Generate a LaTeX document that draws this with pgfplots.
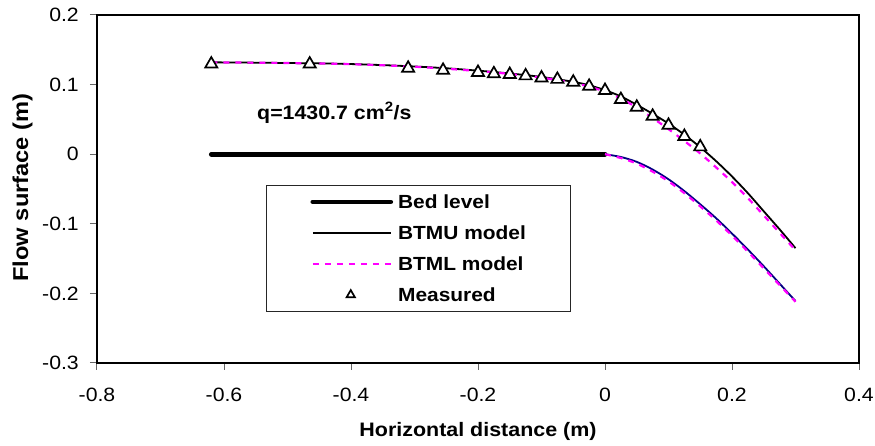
\documentclass[border=0pt]{standalone}
\usepackage{fontspec}
\setmainfont{Liberation Sans}[FakeStretch=1.1]
\usepackage{pgfplots}
\usepackage{pgfplotstable}
\pgfplotsset{compat=1.18}
\definecolor{navyblue}{RGB}{0,0,128}
\definecolor{magentaA}{RGB}{255,0,255}
\newcommand\tickfont{\fontsize{19.3pt}{23pt}\selectfont}
\newcommand\xlabfont{\fontsize{19.5pt}{23pt}\selectfont\bfseries}
\newcommand\ylabfont{\fontsize{21.5pt}{25pt}\selectfont\bfseries}
\newcommand\legfont{\fontsize{19pt}{23pt}\selectfont\bfseries}
\newcommand\qfont{\fontsize{19.4pt}{23pt}\selectfont\bfseries}
\pgfplotsset{
  linelegend/.style={legend image code/.code={\path (-44pt,0pt) (78pt,0pt); \draw[##1] (0pt,0pt) -- (78pt,0pt);}},
  marklegend/.style={legend image code/.code={\path (-44pt,0pt) (78pt,0pt); \draw[##1, mark size=4.8pt] plot coordinates {(38pt,0pt)};}},
}

\pgfplotstableread{
x y
-0.62 0.132
-0.55 0.1315
-0.5 0.131
-0.45 0.1305
-0.4 0.1295
-0.35 0.128
-0.3 0.126
-0.25 0.1235
-0.2 0.120
-0.15 0.116
-0.1 0.111
-0.05 0.104
-0.025 0.099
0 0.092
0.025 0.083
0.05 0.071
0.075 0.058
0.1 0.044
0.125 0.028
0.15 0.010
0.175 -0.010
0.2 -0.032
0.225 -0.056
0.25 -0.082
0.275 -0.108
0.3 -0.135
}\btmuup

\pgfplotstableread{
x y
-0.62 0.132
-0.5 0.131
-0.4 0.1293
-0.3 0.1257
-0.2 0.1195
-0.15 0.1153
-0.1 0.110
-0.05 0.1025
-0.025 0.097
0 0.090
0.025 0.080
0.05 0.067
0.075 0.052
0.1 0.036
0.125 0.019
0.15 0.001
0.175 -0.019
0.2 -0.040
0.225 -0.063
0.25 -0.088
0.275 -0.113
0.3 -0.138
}\btmlup

\pgfplotstableread{
x y
0 0
0.025 -0.004
0.05 -0.011
0.075 -0.022
0.1 -0.036
0.125 -0.053
0.15 -0.072
0.175 -0.092
0.2 -0.114
0.225 -0.137
0.25 -0.161
0.275 -0.186
0.3 -0.211
}\btmulow

\pgfplotstableread{
x y
0 0
0.025 -0.0055
0.05 -0.0135
0.075 -0.025
0.1 -0.039
0.125 -0.056
0.15 -0.075
0.175 -0.095
0.2 -0.117
0.225 -0.140
0.25 -0.164
0.275 -0.188
0.3 -0.212
}\btmllow

\pgfplotstableread{
x y
-0.62 0.1295
-0.465 0.1295
-0.31 0.1235
-0.255 0.1205
-0.2 0.1175
-0.175 0.1155
-0.15 0.1145
-0.125 0.1125
-0.1 0.1095
-0.075 0.1075
-0.05 0.1035
-0.025 0.0975
0 0.0915
0.025 0.0785
0.05 0.0675
0.075 0.0545
0.1 0.0415
0.125 0.0255
0.15 0.0105
}\measured

\begin{document}
\begin{tikzpicture}
\begin{axis}[
  at={(0pt,0pt)}, anchor=south west,
  scale only axis, width=762pt, height=348pt,
  xmin=-0.8, xmax=0.4, ymin=-0.3, ymax=0.2,
  xtick={-0.8,-0.6,-0.4,-0.2,0,0.2,0.4},
  ytick={-0.3,-0.2,-0.1,0,0.1,0.2},
  xtick pos=bottom, ytick pos=left,
  tick align=outside, major tick length=7pt,
  tick style={line width=1pt, black!60},
  axis line style={line width=2.2pt},
  /pgf/number format/assume math mode=true,
  ticklabel style={font=\tickfont, inner sep=0pt},
  xticklabel shift=18pt, yticklabel shift=11pt,
  xlabel={Horizontal distance (m)},
  ylabel={Flow surface (m)},
  every axis x label/.style={at={(axis description cs:0.5,-0.2126)}, anchor=base, font=\xlabfont},
  every axis y label/.style={at={(axis description cs:-0.0978,0.504)}, anchor=center, rotate=90, font=\ylabfont},
  legend cell align=left,
  legend style={at={(rel axis cs:0.2218,0.5115)}, anchor=north west,
    draw=black!85, line width=0.8pt, inner xsep=0pt, inner ysep=9.5pt,
    row sep=17pt, column sep=2pt, font=\legfont,
    nodes={inner xsep=3pt, inner ysep=0pt, text height=14pt, text depth=0pt}},
  linelegend,
]
\addplot[black, line width=4.7pt, line cap=round] coordinates {(-0.62,0) (0,0)};
\addlegendentry{\makebox[169pt][l]{Bed level}}
\addplot[forget plot, navyblue, line width=1.8pt, smooth] table[x=x,y=y] {\btmulow};
\addplot[forget plot, magentaA, line width=2.2pt, dash pattern=on 6pt off 6pt, smooth] table[x=x,y=y] {\btmllow};
\addplot[black, line width=1.8pt, smooth] table[x=x,y=y] {\btmuup};
\addlegendentry{\makebox[169pt][l]{BTMU model}}
\addplot[magentaA, line width=2.2pt, dash pattern=on 6pt off 6pt, smooth] table[x=x,y=y] {\btmlup};
\addlegendentry{\makebox[169pt][l]{BTML model}}
\addplot[only marks, mark=triangle*, mark size=7pt, mark options={fill=white, draw=black, line width=1.7pt}, marklegend]
  table[x=x,y=y] {\measured};
\addlegendentry{\makebox[169pt][l]{Measured}}
\node[anchor=base west, inner sep=0pt, font=\qfont] at (axis cs:-0.548,0.05) {q=1430.7 cm\textsuperscript{2}/s};
\draw[line width=2.2pt, line join=miter] (rel axis cs:0,0) rectangle (rel axis cs:1,1);
\end{axis}
\pgfresetboundingbox
\path (-97pt,-83pt) rectangle (778pt,363pt);
\end{tikzpicture}
\end{document}
